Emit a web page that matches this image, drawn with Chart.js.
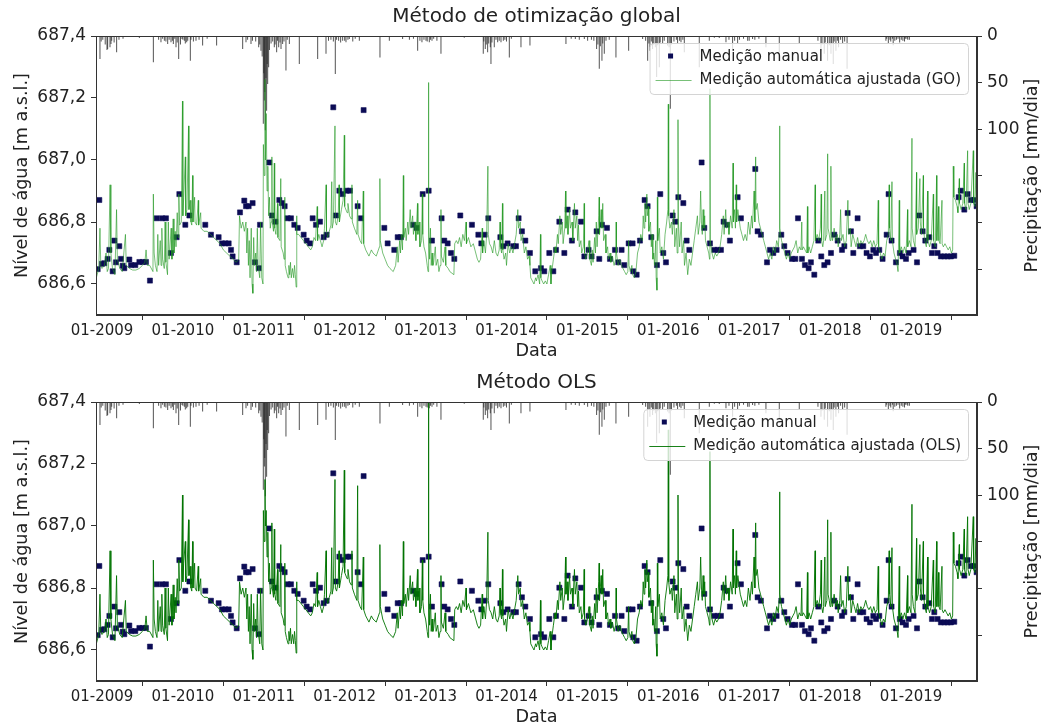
<!DOCTYPE html>
<html><head><meta charset="utf-8">
<script src="https://cdn.jsdelivr.net/npm/chart.js@4.4.0/dist/chart.umd.min.js"></script>
<style>
html,body{margin:0;padding:0;background:#fff;width:1043px;height:724px;overflow:hidden;}
.box{position:absolute;left:0;width:1043px;height:362px;}
</style></head><body>
<div class="box" style="top:0"><canvas id="c1" width="1043" height="362"></canvas></div>
<div class="box" style="top:366px"><canvas id="c2" width="1043" height="362"></canvas></div>
<script>
// ---------- data ----------
const yearTicks = [2009,2010,2011,2012,2013,2014,2015,2016,2017,2018,2019];
const levelTicks = [686.6,686.8,687.0,687.2,687.4];
const precipTicks = [0,50,100,150,200,250];
const precipTickLabels = ['0','50','100','','',''];
const titles = ['Método de otimização global','Método OLS'];
const seriesLabels = ['Medição manual','Medição automática ajustada (GO)','Medição automática ajustada (OLS)'];

// manual measurements: date (decimal year) and level (m a.s.l.)
const manualT = [2008.947,2008.967,2009.000,2009.029,2009.070,2009.091,2009.132,2009.153,2009.173,2009.214,2009.235,2009.256,2009.276,2009.338,2009.359,2009.412,2009.462,2009.503,2009.544,2009.593,2009.676,2009.742,2009.791,2009.853,2009.923,2009.956,2010.030,2010.080,2010.277,2010.347,2010.442,2010.483,2010.525,2010.566,2010.595,2010.615,2010.665,2010.706,2010.759,2010.780,
2010.813,2010.862,2010.891,2010.937,2010.953,2011.068,2011.101,2011.143,2011.192,2011.225,2011.258,2011.295,2011.336,2011.377,2011.419,2011.493,2011.530,2011.571,2011.604,2011.645,2011.695,2011.740,2011.777,2011.859,2011.892,2011.934,2011.975,2012.024,2012.065,2012.160,2012.201,2012.234,2012.490,2012.531,2012.613,
2012.655,2012.696,2012.848,2012.889,2012.964,2013.038,2013.079,2013.198,2013.231,2013.273,2013.314,2013.355,2013.429,2013.573,2013.652,2013.689,2013.730,2013.775,2013.924,2013.961,2014.014,2014.084,2014.117,2014.150,2014.191,2014.233,2014.290,2014.356,2014.426,2014.467,
2014.529,2014.579,2014.612,2014.653,2014.715,2014.756,2014.809,2014.851,2014.921,2014.962,2015.015,2015.052,2015.114,2015.147,2015.180,2015.242,2015.279,2015.341,2015.382,2015.423,2015.456,2015.510,2015.559,2015.567,2015.609,2015.650,2015.707,2015.745,2015.790,2015.860,2015.901,2015.938,2015.971,2016.054,2016.087,2016.124,2016.186,2016.227,2016.260,
2016.412,2016.445,2016.515,2016.569,2016.610,2016.651,2016.684,2016.725,2016.762,2016.857,2016.898,2017.075,2017.104,2017.145,2017.220,2017.257,2017.298,2017.339,2017.397,2017.434,2017.475,2017.529,2017.570,2017.603,2017.652,2017.689,2017.735,2017.763,2017.805,2017.854,2017.891,2017.928,2017.969,2018.011,2018.052,2018.093,2018.147,2018.176,
2018.217,2018.258,2018.287,2018.340,2018.369,2018.410,2018.451,2018.493,2018.534,2018.567,2018.608,2018.649,2018.699,2018.723,2018.760,2018.814,2018.863,2018.896,2018.938,2018.971,2019.032,2019.074,2019.102,2019.144,2019.177,2019.226,2019.259,2019.288,2019.329,2019.370,2019.412,2019.453,2019.494,2019.535,2019.589,2019.617,2019.659,2019.700,2019.741,2019.782,2019.811];
const manualV = [686.648,686.871,686.665,686.667,686.681,686.710,686.641,686.740,686.670,686.722,686.681,686.659,686.651,686.679,686.661,686.661,686.671,686.671,686.671,686.611,686.812,686.812,686.812,686.700,686.751,686.890,686.791,686.821,686.791,686.759,686.751,686.731,686.731,686.731,686.710,686.689,686.670,686.831,686.869,686.851,
686.851,686.861,686.670,686.651,686.791,686.992,686.821,686.801,686.871,686.861,686.851,686.812,686.812,686.791,686.781,686.759,686.740,686.731,686.812,686.791,686.801,686.751,686.759,687.170,686.821,686.901,686.890,686.901,686.901,686.851,686.812,687.161,686.781,686.731,686.710,
686.751,686.751,686.791,686.781,686.890,686.901,686.740,686.812,686.740,686.731,686.700,686.681,686.821,686.791,686.759,686.731,686.759,686.812,686.751,686.722,686.731,686.722,686.722,686.812,686.770,686.740,686.700,686.641,686.651,686.641,
686.700,686.641,686.710,686.801,686.700,686.840,686.740,686.831,686.801,686.689,686.710,686.689,686.770,686.681,686.791,686.781,686.681,686.710,686.670,686.710,686.661,686.731,686.731,686.641,686.630,686.740,686.871,686.851,686.751,686.661,686.890,686.700,686.670,686.821,686.801,686.880,686.861,686.740,686.710,
686.992,686.781,686.731,686.710,686.710,686.710,686.801,686.791,686.740,686.880,686.812,686.971,686.770,686.759,686.670,686.710,686.700,686.710,686.759,686.722,686.700,686.681,686.681,686.812,686.681,686.661,686.651,686.670,686.630,686.740,686.689,686.661,686.670,686.700,686.759,686.740,686.710,686.722,
686.829,686.770,686.700,686.812,686.722,686.722,686.700,686.689,686.710,686.700,686.710,686.681,686.759,686.890,686.740,686.670,686.700,686.689,686.681,686.700,686.710,686.670,686.821,686.770,686.740,686.751,686.700,686.722,686.700,686.689,686.689,686.689,686.689,686.691,686.880,686.901,686.840,686.890,686.871,686.871,686.851];

// daily precipitation: date (decimal year) and amount (mm/dia)
const precipT = [2008.975,2009.062,2009.070,2009.099,2009.111,2009.181,2009.462,2009.635,2009.729,2009.771,2009.812,2009.853,2009.882,2009.915,2009.948,2009.989,2010.018,2010.047,2010.092,2010.162,2010.244,2010.417,2010.739,
2010.780,2010.842,2010.937,2010.965,2010.994,2011.007,2011.019,2011.035,2011.048,2011.060,2011.130,2011.159,2011.184,2011.213,2011.233,2011.274,2011.316,2011.439,2011.666,2011.769,2011.884,2011.925,2011.975,2012.016,2012.057,2012.181,2012.436,2012.552,
2012.716,2012.902,2012.955,2013.005,2013.046,2013.079,2013.190,2013.478,2013.713,2013.738,2013.767,2013.808,2013.849,2013.891,2013.932,2013.961,2014.035,2014.179,2014.290,
2014.735,2014.851,2014.962,2015.003,2015.114,2015.147,2015.180,2015.209,2015.353,2015.510,2015.683,2015.745,2015.773,2015.806,2015.856,2015.889,2015.930,2015.992,2016.025,2016.115,2016.157,2016.198,
2016.383,2016.507,2016.569,2016.630,2016.713,2016.795,2016.857,2016.981,2017.042,2017.207,2017.372,2017.619,2017.887,2017.928,2017.969,2018.011,2018.039,2018.072,2018.105,2018.155,
2018.210,2018.690,2018.720,2018.750,2018.780,2018.820,2018.860,2018.900,2018.930,2018.960,
2008.99,2009.01,2009.04,2009.12,2009.15,2009.21,2009.26,2009.70,2009.75,2009.79,2009.83,2009.87,2009.90,2009.93,2009.97,2010.00,2010.03,2010.06,2010.10,2010.13,2010.20,2010.30,
2010.80,2010.86,2010.90,2010.95,2010.98,2011.00,2011.012,2011.027,2011.042,2011.07,2011.09,2011.11,2011.14,2011.17,2011.20,2011.25,2011.29,
2011.80,2011.83,2011.86,2011.90,2011.95,2012.00,2012.04,2012.10,2012.13,
2012.80,2012.85,2012.93,2012.98,2013.02,2013.06,2013.10,2013.14,
2013.72,2013.75,2013.78,2013.80,2013.82,2013.87,2013.91,2013.98,2014.00,2014.06,
2014.80,2014.90,2015.05,2015.08,2015.13,2015.16,2015.19,2015.23,2015.27,
2015.72,2015.76,2015.79,2015.82,2015.84,2015.87,2015.90,2015.95,2016.01,2016.04,2016.07,2016.10,2016.14,2016.18,
2016.75,2016.82,2016.88,2016.93,2017.00,2017.07,2017.12,
2017.85,2017.90,2017.94,2017.99,2018.02,2018.05,2018.09,2018.13,2018.18,
2018.70,2018.74,2018.77,2018.80,2018.84,2018.88,2018.92,2018.95,2018.98];
const precipV = [24.6,15,13.9,12.1,8.6,17.5,2.1,28.2,6.8,5,8.6,6.8,8.6,12.1,24.6,3.2,5,6.8,26.4,5,10.3,10.3,13.9,
6.8,8.6,12.1,15.7,94,69,101,80,51.5,33.5,12,17.5,12,14,8.6,37,8.6,30,24.6,19,40.7,5,5,6.8,3.2,5,23,5,
3.2,15.7,6.8,5,6.8,5,19,2,19,14,17.5,30,12,6.8,6.8,5,23,12,10.3,
8.6,3.2,3.2,5,14,35,26.4,19,23,15.7,3.2,26.4,15.7,14,44,33.5,8.6,10.3,78,8.6,6.8,17.5,
33.5,5,2,2.1,6.8,15.7,8.6,5,3.2,12,17.5,8.6,15.7,19,26.4,19,30,15.7,12,8.6,
35,5,8,6,10,4,7,5,3,4,
6,4,9,5,7,4,3,4,3,6,4,5,3,7,9,4,8,5,4,6,4,3,
4,5,6,9,22,40,60,45,30,15,8,6,9,5,7,6,4,
5,4,6,4,7,5,4,6,3,
4,3,5,4,6,4,3,5,
6,9,8,12,7,4,5,4,6,3,
3,4,4,5,9,11,8,5,4,
5,8,6,9,12,10,7,5,12,9,6,4,5,4,
4,5,4,3,5,4,3,
5,9,7,10,8,6,5,4,6,
3,4,3,5,3,4,6,3,4];

// adjusted automatic measurement (GO): [date, level]
const autoGO = [
[2008.93,686.62],[2008.96,686.65],[2008.975,686.78],[2008.985,686.66],[2009.00,686.65],[2009.03,686.66],[2009.05,686.70],[2009.065,686.64],[2009.08,686.65],[2009.10,686.92],[2009.11,686.70],[2009.13,686.65],[2009.16,686.63],[2009.18,686.84],[2009.19,686.68],[2009.22,686.65],[2009.25,686.64],[2009.29,686.76],[2009.30,686.66],[2009.34,686.65],[2009.38,686.645],[2009.42,686.645],[2009.46,686.65],[2009.50,686.66],[2009.53,686.67],[2009.545,686.71],[2009.56,686.66],[2009.59,686.66],[2009.63,686.64],[2009.635,686.89],[2009.645,686.70],[2009.66,686.66],[2009.68,686.64],[2009.69,686.76],[2009.70,686.66],[2009.72,686.74],[2009.73,686.66],[2009.74,686.78],[2009.75,686.68],[2009.77,686.65],[2009.78,686.80],[2009.79,686.67],[2009.81,686.63],[2009.82,686.80],[2009.83,686.68],[2009.855,686.78],[2009.865,686.68],[2009.88,686.81],[2009.89,686.70],[2009.905,686.77],[2009.915,686.72],[2009.93,686.83],[2009.94,686.75],[2009.95,686.89],[2009.96,686.79],[2009.98,686.80],[2009.995,687.19],[2010.00,686.82],[2010.01,686.88],[2010.03,687.01],[2010.035,686.82],[2010.05,686.84],[2010.07,687.11],[2010.075,686.84],[2010.09,686.87],[2010.10,686.80],[2010.11,686.79],[2010.12,686.95],[2010.125,686.80],[2010.145,686.88],[2010.15,686.80],[2010.17,686.79],[2010.19,686.87],[2010.195,686.79],[2010.22,686.83],[2010.225,686.78],[2010.26,686.77],[2010.30,686.77],[2010.34,686.76],[2010.38,686.75],[2010.42,686.74],[2010.46,686.73],[2010.50,686.71],[2010.54,686.70],[2010.58,686.69],[2010.62,686.68],[2010.66,686.67],[2010.69,686.68],[2010.70,686.82],[2010.72,686.78],[2010.74,686.80],[2010.76,686.77],
[2010.78,686.80],[2010.79,686.70],[2010.80,686.78],[2010.81,686.66],[2010.82,686.74],[2010.83,686.62],[2010.845,686.78],[2010.855,686.60],[2010.865,686.57],[2010.875,686.75],[2010.885,686.66],[2010.90,686.70],[2010.91,686.64],[2010.92,686.78],[2010.93,686.66],[2010.95,686.62],[2010.96,686.80],[2010.975,686.62],[2010.99,686.60],[2010.995,687.05],[2011.005,686.95],[2011.015,687.26],[2011.02,687.00],[2011.03,687.15],[2011.04,686.90],[2011.05,686.98],[2011.06,686.82],[2011.07,686.88],[2011.08,686.78],[2011.09,686.80],[2011.10,687.01],[2011.105,686.80],[2011.12,686.77],[2011.13,686.99],[2011.135,686.78],[2011.15,686.76],[2011.17,686.86],[2011.175,686.75],[2011.20,686.74],[2011.21,686.94],[2011.215,686.72],[2011.24,686.70],[2011.25,686.68],[2011.26,686.88],[2011.265,686.66],[2011.28,686.64],[2011.30,686.62],[2011.31,686.66],[2011.32,686.63],[2011.33,686.67],[2011.34,686.62],[2011.355,686.65],[2011.37,686.62],[2011.38,686.66],[2011.39,686.63],[2011.40,686.59],[2011.405,686.82],[2011.41,686.76],[2011.43,686.76],[2011.46,686.75],[2011.49,686.74],[2011.52,686.73],[2011.55,686.72],[2011.58,686.71],[2011.60,686.72],[2011.62,686.75],[2011.64,686.74],[2011.66,686.85],[2011.665,686.74],[2011.68,686.76],[2011.70,686.74],[2011.72,686.72],[2011.74,686.74],[2011.75,686.78],[2011.77,686.92],[2011.775,686.77],[2011.79,686.75],[2011.81,686.77],[2011.83,686.79],[2011.84,686.93],[2011.845,686.78],[2011.86,686.80],[2011.88,687.11],[2011.885,686.80],[2011.90,686.79],[2011.92,686.82],[2011.93,686.92],[2011.935,686.80],[2011.96,686.84],[2011.98,686.87],[2011.995,687.08],[2012.00,686.85],[2012.03,686.83],[2012.04,686.86],[2012.06,686.82],[2012.08,686.81],[2012.09,686.92],[2012.095,686.80],[2012.12,686.78],[2012.15,686.76],[2012.16,686.87],[2012.165,686.76],[2012.19,686.74],[2012.21,686.73],[2012.23,686.90],[2012.235,686.73],[2012.26,686.71],[2012.28,686.70],[2012.30,686.69],[2012.33,686.71],[2012.35,686.70],[2012.39,686.69],[2012.43,686.72],[2012.435,686.94],[2012.44,686.74],[2012.47,686.70],[2012.50,686.68],[2012.53,686.66],[2012.56,686.65],[2012.60,686.64],[2012.63,686.66],
[2012.65,686.72],[2012.66,686.67],[2012.68,686.74],[2012.69,686.70],[2012.70,686.76],[2012.715,686.71],[2012.725,686.95],[2012.73,686.75],[2012.75,686.78],[2012.76,686.74],[2012.78,686.80],[2012.79,686.76],[2012.81,686.84],[2012.82,686.78],[2012.84,686.82],[2012.85,686.76],[2012.87,686.80],[2012.88,686.74],[2012.90,686.86],[2012.905,686.76],[2012.92,686.80],[2012.93,686.72],[2012.95,686.74],[2012.96,686.89],[2012.965,686.76],[2012.98,686.72],[2013.00,686.70],[2013.02,686.66],[2013.03,686.64],[2013.035,687.25],[2013.04,686.80],[2013.05,686.68],[2013.06,686.78],[2013.07,686.66],[2013.08,686.70],[2013.09,686.66],[2013.10,686.67],[2013.12,686.72],[2013.13,686.66],[2013.15,686.68],[2013.165,686.64],[2013.18,686.66],[2013.19,686.84],[2013.195,686.69],[2013.22,686.67],[2013.24,686.72],[2013.25,686.66],[2013.28,686.65],[2013.30,686.64],[2013.35,686.63],[2013.36,686.73],[2013.38,686.74],[2013.40,686.73],[2013.42,686.75],[2013.44,686.72],[2013.46,686.76],[2013.48,686.74],[2013.50,686.80],[2013.505,686.73],[2013.53,686.75],[2013.56,686.72],[2013.59,686.73],[2013.62,686.70],[2013.64,686.68],[2013.66,686.67],[2013.68,686.68],[2013.70,686.78],[2013.705,686.70],[2013.72,686.74],[2013.74,686.70],[2013.755,686.76],[2013.77,686.98],[2013.775,686.76],[2013.79,686.73],[2013.81,686.72],[2013.83,686.70],[2013.85,686.74],[2013.87,686.70],[2013.89,686.69],[2013.91,686.71],[2013.92,686.80],[2013.925,686.72],[2013.94,686.70],[2013.95,686.86],[2013.955,686.71],[2013.97,686.68],[2013.99,686.70],[2014.00,686.66],[2014.02,686.73],[2014.04,686.70],[2014.06,686.72],[2014.08,686.70],[2014.10,686.73],[2014.12,686.76],[2014.14,686.84],[2014.15,686.78],[2014.17,686.80],[2014.18,686.74],[2014.20,686.76],[2014.22,686.70],[2014.24,686.72],[2014.26,686.68],[2014.28,686.69],[2014.29,686.66],[2014.30,686.62],[2014.32,686.61],[2014.34,686.60],[2014.36,686.62],[2014.37,686.61],[2014.39,686.63],[2014.41,686.60],[2014.42,686.76],[2014.425,686.62],[2014.44,686.61],[2014.46,686.60],[2014.48,686.61],
[2014.50,686.60],[2014.52,686.63],[2014.54,686.66],[2014.55,686.60],[2014.56,686.64],[2014.58,686.68],[2014.60,686.72],[2014.61,686.70],[2014.63,686.76],[2014.64,686.73],[2014.66,686.82],[2014.67,686.76],[2014.69,686.80],[2014.70,686.73],[2014.72,686.78],[2014.73,686.90],[2014.735,686.78],[2014.75,686.82],[2014.76,686.76],[2014.78,686.84],[2014.79,686.78],[2014.81,686.80],[2014.82,686.74],[2014.84,686.86],[2014.85,686.78],[2014.87,686.82],[2014.88,686.74],[2014.89,686.79],[2014.90,686.72],[2014.92,686.74],[2014.93,686.70],[2014.95,686.72],[2014.96,686.86],[2014.965,686.70],[2014.98,686.68],[2015.00,686.70],[2015.02,686.74],[2015.03,686.68],[2015.05,686.66],[2015.06,686.71],[2015.07,686.67],[2015.09,686.75],[2015.10,686.70],[2015.11,686.80],[2015.12,686.72],[2015.14,686.82],[2015.145,686.88],[2015.15,686.76],[2015.17,686.84],[2015.18,686.78],[2015.19,686.86],[2015.20,686.74],[2015.22,686.76],[2015.23,686.70],[2015.25,686.72],[2015.26,686.68],[2015.28,686.70],[2015.29,686.67],[2015.31,686.69],[2015.33,686.66],[2015.35,686.68],[2015.355,686.80],[2015.36,686.70],[2015.38,686.66],[2015.40,686.68],[2015.42,686.66],[2015.44,686.65],[2015.46,686.64],[2015.48,686.63],[2015.50,686.64],[2015.51,686.74],[2015.515,686.66],[2015.53,686.64],[2015.55,686.66],[2015.56,686.63],[2015.58,686.62],[2015.60,686.64],[2015.62,686.70],[2015.64,686.72],[2015.66,686.76],[2015.68,686.74],[2015.69,686.82],[2015.70,686.78],[2015.71,686.86],[2015.72,686.80],[2015.735,686.89],[2015.74,686.82],[2015.755,686.85],[2015.76,686.77],[2015.78,686.80],[2015.79,686.72],[2015.80,686.76],[2015.81,686.68],[2015.82,686.70],[2015.83,686.66],[2015.845,686.74],[2015.85,686.62],[2015.86,686.58],[2015.865,686.88],[2015.87,686.74],[2015.89,686.78],[2015.90,686.70],[2015.92,686.72],[2015.94,686.68],[2015.96,686.76],[2015.98,686.80],[2015.995,686.84],[2016.00,687.18],[2016.005,686.82],[2016.02,686.78],[2016.04,686.80],[2016.05,686.76],[2016.07,686.84],[2016.08,686.72],[2016.10,686.78],[2016.11,686.70],[2016.12,687.13],[2016.125,686.80],[2016.14,686.72],[2016.16,686.80],[2016.17,686.70],[2016.19,686.74],[2016.20,686.66],[2016.22,686.70],[2016.24,686.63],[2016.26,686.68],[2016.28,686.66],[2016.30,686.70],[2016.32,686.74],[2016.34,686.78],
[2016.36,686.82],[2016.37,686.76],[2016.39,686.80],[2016.40,686.90],[2016.41,686.80],[2016.42,686.76],[2016.43,686.84],[2016.44,686.78],[2016.45,686.82],[2016.46,686.74],[2016.48,686.72],[2016.50,686.70],[2016.51,686.68],[2016.515,687.23],[2016.52,686.74],[2016.54,686.70],[2016.56,686.68],[2016.58,686.70],[2016.60,686.69],[2016.62,686.70],[2016.64,686.72],[2016.66,686.76],[2016.68,686.82],[2016.69,686.76],[2016.71,686.84],[2016.72,686.78],[2016.74,686.80],[2016.75,686.76],[2016.77,686.82],[2016.79,686.78],[2016.80,686.99],[2016.805,686.80],[2016.82,686.84],[2016.83,686.78],[2016.84,686.92],[2016.845,686.80],[2016.86,686.84],[2016.88,686.80],[2016.89,686.78],[2016.91,686.76],[2016.93,686.74],[2016.95,686.76],[2016.97,686.74],[2016.99,686.80],[2017.01,686.76],[2017.03,686.82],[2017.04,686.78],[2017.06,686.90],[2017.07,686.80],[2017.08,687.01],[2017.085,686.84],[2017.10,686.86],[2017.12,686.80],[2017.14,686.78],[2017.16,686.76],[2017.18,686.74],[2017.20,686.72],[2017.22,686.70],[2017.24,686.68],[2017.26,686.70],[2017.28,686.68],[2017.30,686.72],[2017.32,686.70],[2017.34,686.74],[2017.36,686.72],[2017.37,686.76],[2017.375,687.11],[2017.38,686.78],[2017.40,686.74],[2017.42,686.72],[2017.44,686.70],[2017.46,686.68],[2017.48,686.70],[2017.50,686.68],[2017.52,686.70],[2017.54,686.71],[2017.56,686.72],[2017.58,686.74],[2017.60,686.70],[2017.62,686.72],[2017.64,686.71],[2017.65,686.80],[2017.655,686.71],[2017.67,686.72],[2017.69,686.71],[2017.71,686.70],[2017.72,686.85],[2017.725,686.70],[2017.74,686.72],[2017.76,686.70],[2017.78,686.72],[2017.80,686.74],[2017.815,686.92],[2017.82,686.74],[2017.84,686.76],[2017.86,686.74],[2017.88,686.78],[2017.89,686.89],[2017.895,686.74],[2017.91,686.72],[2017.92,686.74],[2017.935,686.90],[2017.94,686.74],[2017.96,686.76],[2017.97,687.02],[2017.975,686.78],[2017.99,686.76],[2018.00,686.74],[2018.01,686.98],[2018.015,686.76],[2018.03,686.74],[2018.05,686.78],[2018.07,686.74],[2018.09,686.76],[2018.10,686.72],[2018.12,686.76],[2018.13,686.84],[2018.14,686.74],[2018.16,686.76],[2018.18,686.72],
[2018.20,686.74],[2018.22,686.87],[2018.23,686.76],[2018.25,686.78],[2018.26,686.72],[2018.28,686.76],[2018.30,686.74],[2018.32,686.72],[2018.34,686.75],[2018.36,686.72],[2018.38,686.74],[2018.40,686.73],[2018.42,686.74],[2018.44,686.76],[2018.46,686.74],[2018.48,686.73],[2018.50,686.74],[2018.52,686.72],[2018.54,686.74],[2018.56,686.72],[2018.58,686.73],[2018.595,686.87],[2018.60,686.72],[2018.62,686.70],[2018.64,686.68],[2018.66,686.70],[2018.68,686.69],[2018.70,686.74],[2018.72,686.76],[2018.73,686.92],[2018.735,686.78],[2018.75,686.74],[2018.765,686.93],[2018.77,686.74],[2018.79,686.70],[2018.81,686.68],[2018.83,686.66],[2018.84,686.64],[2018.855,686.87],[2018.86,686.70],[2018.88,686.72],[2018.90,686.70],[2018.92,686.72],[2018.94,686.70],[2018.958,686.84],[2018.96,686.72],[2018.98,686.74],[2019.00,686.72],[2019.012,687.07],[2019.015,686.78],[2019.03,686.74],[2019.05,686.72],[2019.069,686.96],[2019.07,686.76],[2019.09,686.78],[2019.11,686.94],[2019.115,686.80],[2019.13,686.76],[2019.152,686.95],[2019.155,686.78],[2019.17,686.74],[2019.19,686.72],[2019.205,686.90],[2019.21,686.74],[2019.23,686.72],[2019.25,686.74],[2019.276,686.89],[2019.28,686.74],[2019.30,686.72],[2019.317,686.95],[2019.32,686.74],[2019.341,686.85],[2019.345,686.74],[2019.36,686.73],[2019.383,686.87],[2019.385,686.73],[2019.40,686.72],[2019.42,686.73],[2019.44,686.72],[2019.46,686.71],[2019.48,686.72],[2019.50,686.70],[2019.515,686.71],[2019.523,686.98],[2019.53,686.88],[2019.55,686.87],[2019.57,686.85],[2019.58,686.83],[2019.597,686.94],[2019.60,686.86],[2019.62,686.84],[2019.64,686.86],[2019.659,686.99],[2019.66,686.86],[2019.68,686.84],[2019.70,687.03],[2019.705,686.86],[2019.72,686.84],[2019.74,686.86],[2019.77,687.03],[2019.775,686.86],[2019.79,686.85],[2019.803,686.96],[2019.81,686.85],[2019.82,686.86]];

// OLS panel: readings where the lower panel differs from the GO readings [date, level]
const olsReadings = [[2009.995,687.10],[2010.03,686.95],[2010.07,687.02],[2011.015,687.15],[2011.03,687.05],[2011.88,687.15],[2011.995,687.18],[2012.16,687.13],[2013.035,687.40],[2016.00,687.31],[2016.12,687.10],[2016.515,687.24]];

// ---------- chart ----------
const FONT = "'DejaVu Sans', 'Liberation Sans', sans-serif";
Chart.defaults.font.family = FONT;
Chart.defaults.color = '#222';
const NAVY = '#0b0b55';
const AX = '#333';

function olsSeries() {
  const m = new Map(autoGO.map(p => [p[0], p[1]]));
  olsReadings.forEach(p => m.set(p[0], p[1]));
  return [...m.entries()].sort((a, b) => a[0] - b[0]);
}

const framePlugin = {
  id: 'frameLegend',
  afterDatasetsDraw(chart, args, opts) {
    const ctx = chart.ctx, ca = chart.chartArea;
    ctx.save();
    ctx.strokeStyle = AX; ctx.lineWidth = 1;
    ctx.strokeRect(Math.round(ca.left)+0.5, Math.round(ca.top)+0.5, Math.round(ca.right-ca.left)-1, Math.round(ca.bottom-ca.top)-1);
    ctx.font = '15px ' + FONT;
    const labs = opts.labels;
    const tw = Math.max(...labs.map(l => ctx.measureText(l).width));
    const right = ca.right - 9, top = ca.top + 7, h = 51;
    const w = 50 + tw + 7, left = right - w;
    ctx.beginPath();
    if (ctx.roundRect) ctx.roundRect(left+0.5, top+0.5, w, h, 4); else ctx.rect(left+0.5, top+0.5, w, h);
    ctx.fillStyle = 'rgba(255,255,255,0.8)'; ctx.fill();
    ctx.strokeStyle = '#d4d4d4'; ctx.stroke();
    ctx.fillStyle = NAVY; ctx.fillRect(left+18.5, top+10.5, 5, 5);
    ctx.strokeStyle = opts.lineColor; ctx.lineWidth = 1;
    ctx.beginPath(); ctx.moveTo(left+6, top+37.5); ctx.lineTo(left+42, top+37.5); ctx.stroke();
    ctx.fillStyle = '#222'; ctx.textBaseline = 'middle'; ctx.textAlign = 'left';
    ctx.fillText(labs[0], left+50, top+14);
    ctx.fillText(labs[1], left+50, top+37);
    ctx.font = '17.6px ' + FONT;
    ctx.translate(1032, (ca.top+ca.bottom)/2);
    ctx.rotate(-Math.PI/2);
    ctx.textAlign = 'center';
    ctx.fillText(opts.rightTitle, 0, 0);
    ctx.restore();
  }
};

function makeChart(id, title, autoData, autoLabel, lineColor) {
  const grid = { display: true, drawOnChartArea: false, tickLength: 5, tickColor: AX, color: AX };
  return new Chart(document.getElementById(id), {
    type: 'line',
    plugins: [framePlugin],
    data: {
      datasets: [
        { label: autoLabel, data: autoData.map(p => ({x: p[0], y: p[1]})), yAxisID: 'y',
          borderColor: lineColor, borderWidth: 1, pointRadius: 0, tension: 0, fill: false, order: 0 },
        { label: seriesLabels[0], data: manualT.map((t,i) => ({x: t, y: manualV[i]})), yAxisID: 'y',
          showLine: false, pointStyle: 'rect', pointRadius: 3.6, backgroundColor: NAVY, borderColor: NAVY, borderWidth: 0.5, order: 1 },
        { type: 'bar', label: 'Precipitação', data: precipT.map((t,i) => ({x: t, y: precipV[i]})), yAxisID: 'y2',
          backgroundColor: 'rgba(40,40,40,0.8)', borderWidth: 0, barThickness: 1, inflateAmount: 0, grouped: false, order: 2 }
      ]
    },
    options: {
      responsive: false, animation: false, devicePixelRatio: 1,
      layout: {padding: 0},
      plugins: {
        legend: {display: false}, tooltip: {enabled: false},
        title: {display: true, fullSize: false, text: title, font: {size: 20, weight: 'normal', family: FONT}, color: '#222', padding: {top: 5, bottom: 7}},
        frameLegend: {labels: [seriesLabels[0], autoLabel], lineColor: lineColor, rightTitle: 'Precipitação [mm/dia]'}
      },
      scales: {
        x: { type: 'linear', min: 2008.926, max: 2019.816, offset: false,
          afterBuildTicks: s => { s.ticks = yearTicks.map(v => ({value: v})); },
          afterFit: s => { s.height = 47; },
          ticks: { callback: v => '01-' + v, font: {size: 15, family: FONT}, color: '#222', padding: 2, maxRotation: 0, autoSkip: false },
          grid: grid, border: { display: true, color: AX },
          title: { display: true, text: 'Data', font: {size: 17.6, family: FONT}, color: '#222', padding: {top: 0, bottom: 0} } },
        y: { position: 'left', min: 686.5, max: 687.4,
          afterBuildTicks: s => { s.ticks = levelTicks.map(v => ({value: v})); },
          afterFit: s => { s.width = 96; },
          ticks: { callback: v => v.toFixed(1).replace('.', ','), font: {size: 17, family: FONT}, color: '#222', padding: 5 },
          grid: grid, border: { display: true, color: AX },
          title: { display: true, text: 'Nível de água [m a.s.l.]', font: {size: 17.6, family: FONT}, color: '#222', padding: {top: 11.4, bottom: 0} } },
        y2: { position: 'right', reverse: true, min: 0, max: 299,
          afterBuildTicks: s => { s.ticks = precipTicks.map(v => ({value: v})); },
          afterFit: s => { s.width = 66; },
          ticks: { callback: (v, i) => precipTickLabels[i], font: {size: 17, family: FONT}, color: '#222', padding: 5 },
          grid: grid, border: { display: true, color: AX } }
      }
    }
  });
}

makeChart('c1', titles[0], autoGO, seriesLabels[1], 'rgba(30,150,30,0.6)');
makeChart('c2', titles[1], olsSeries(), seriesLabels[2], 'rgba(0,115,0,0.9)');
</script>
</body></html>
